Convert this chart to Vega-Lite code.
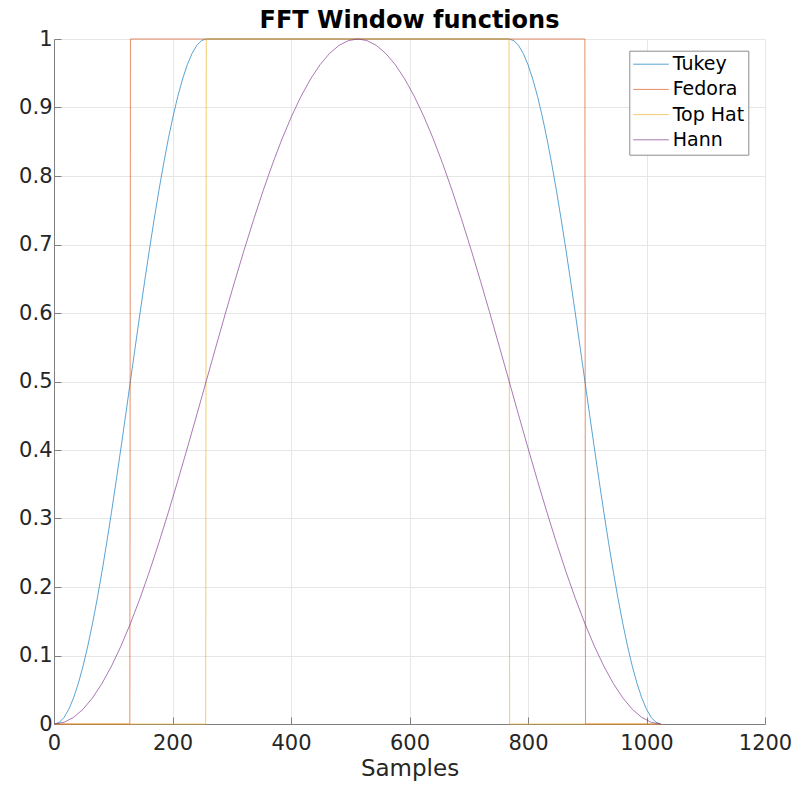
{
  "$schema": "https://vega.github.io/schema/vega-lite/v6.json",
  "autosize": {"type": "none"},
  "width": 711,
  "height": 685,
  "padding": {"left": 54, "top": 39, "right": 33, "bottom": 67},
  "background": "white",
  "title": {"text": "FFT Window functions", "font": "DejaVu Sans", "fontSize": 24, "fontWeight": "bold", "color": "#000000", "anchor": "middle", "baseline": "bottom", "offset": 4, "dy": 33},
  "config": {
    "view": {"stroke": null},
    "font": "DejaVu Sans",
    "axis": {"labelFont": "DejaVu Sans", "titleFont": "DejaVu Sans", "labelFontSize": 21, "titleFontSize": 23, "titleFontWeight": "normal", "labelColor": "#262626", "titleColor": "#262626", "domainColor": "#808080", "tickColor": "#808080", "gridColor": "#e6e6e6", "tickSize": -7, "domainWidth": 1, "tickWidth": 1, "labelFlush": false}
  },
  "data": {"values": [
    {"s":"Tukey","x":1,"y":0},{"s":"Tukey","x":9,"y":0.00241},{"s":"Tukey","x":17,"y":0.00963},{"s":"Tukey","x":25,"y":0.02157},{"s":"Tukey","x":33,"y":0.03813},{"s":"Tukey","x":41,"y":0.05915},{"s":"Tukey","x":49,"y":0.08441},{"s":"Tukey","x":57,"y":0.11368},{"s":"Tukey","x":65,"y":0.14667},{"s":"Tukey","x":73,"y":0.18306},{"s":"Tukey","x":81,"y":0.22251},{"s":"Tukey","x":89,"y":0.26463},{"s":"Tukey","x":97,"y":0.30902},{"s":"Tukey","x":105,"y":0.35526},{"s":"Tukey","x":113,"y":0.40291},{"s":"Tukey","x":121,"y":0.4515},{"s":"Tukey","x":129,"y":0.50077},{"s":"Tukey","x":137,"y":0.54987},{"s":"Tukey","x":145,"y":0.5986},{"s":"Tukey","x":153,"y":0.64616},{"s":"Tukey","x":161,"y":0.69231},{"s":"Tukey","x":169,"y":0.73651},{"s":"Tukey","x":177,"y":0.77863},{"s":"Tukey","x":185,"y":0.81803},{"s":"Tukey","x":193,"y":0.85444},{"s":"Tukey","x":201,"y":0.88727},{"s":"Tukey","x":209,"y":0.91644},{"s":"Tukey","x":217,"y":0.94156},{"s":"Tukey","x":225,"y":0.96246},{"s":"Tukey","x":233,"y":0.97887},{"s":"Tukey","x":241,"y":0.99068},{"s":"Tukey","x":249,"y":0.99773},{"s":"Tukey","x":257,"y":1},
    {"s":"Tukey","x":768,"y":1},{"s":"Tukey","x":776,"y":0.99773},{"s":"Tukey","x":784,"y":0.99068},{"s":"Tukey","x":792,"y":0.97887},{"s":"Tukey","x":800,"y":0.96246},{"s":"Tukey","x":808,"y":0.94156},{"s":"Tukey","x":816,"y":0.91644},{"s":"Tukey","x":824,"y":0.88727},{"s":"Tukey","x":832,"y":0.85444},{"s":"Tukey","x":840,"y":0.81803},{"s":"Tukey","x":848,"y":0.77863},{"s":"Tukey","x":856,"y":0.73651},{"s":"Tukey","x":864,"y":0.69231},{"s":"Tukey","x":872,"y":0.64616},{"s":"Tukey","x":880,"y":0.5986},{"s":"Tukey","x":888,"y":0.54987},{"s":"Tukey","x":896,"y":0.50077},{"s":"Tukey","x":904,"y":0.4515},{"s":"Tukey","x":912,"y":0.40291},{"s":"Tukey","x":920,"y":0.35526},{"s":"Tukey","x":928,"y":0.30902},{"s":"Tukey","x":936,"y":0.26463},{"s":"Tukey","x":944,"y":0.22251},{"s":"Tukey","x":952,"y":0.18306},{"s":"Tukey","x":960,"y":0.14667},{"s":"Tukey","x":968,"y":0.11368},{"s":"Tukey","x":976,"y":0.08441},{"s":"Tukey","x":984,"y":0.05915},{"s":"Tukey","x":992,"y":0.03813},{"s":"Tukey","x":1000,"y":0.02157},{"s":"Tukey","x":1008,"y":0.00963},{"s":"Tukey","x":1016,"y":0.00241},{"s":"Tukey","x":1024,"y":0},
    {"s":"Fedora","x":1,"y":0},{"s":"Fedora","x":128,"y":0},{"s":"Fedora","x":129,"y":1},{"s":"Fedora","x":896,"y":1},{"s":"Fedora","x":897,"y":0},{"s":"Fedora","x":1024,"y":0},
    {"s":"Top Hat","x":1,"y":0},{"s":"Top Hat","x":256,"y":0},{"s":"Top Hat","x":257,"y":1},{"s":"Top Hat","x":768,"y":1},{"s":"Top Hat","x":769,"y":0},{"s":"Top Hat","x":1024,"y":0},
    {"s":"Hann","x":1,"y":0},{"s":"Hann","x":17,"y":0.00241},{"s":"Hann","x":33,"y":0.00963},{"s":"Hann","x":49,"y":0.02157},{"s":"Hann","x":65,"y":0.03813},{"s":"Hann","x":81,"y":0.05915},{"s":"Hann","x":97,"y":0.08441},{"s":"Hann","x":113,"y":0.11368},{"s":"Hann","x":129,"y":0.14667},{"s":"Hann","x":145,"y":0.18306},{"s":"Hann","x":161,"y":0.22251},{"s":"Hann","x":177,"y":0.26463},{"s":"Hann","x":193,"y":0.30902},{"s":"Hann","x":209,"y":0.35526},{"s":"Hann","x":225,"y":0.40291},{"s":"Hann","x":241,"y":0.4515},{"s":"Hann","x":257,"y":0.50077},{"s":"Hann","x":273,"y":0.54987},{"s":"Hann","x":289,"y":0.5986},{"s":"Hann","x":305,"y":0.64616},{"s":"Hann","x":321,"y":0.69231},{"s":"Hann","x":337,"y":0.73651},{"s":"Hann","x":353,"y":0.77863},{"s":"Hann","x":369,"y":0.81803},{"s":"Hann","x":385,"y":0.85444},{"s":"Hann","x":401,"y":0.88727},{"s":"Hann","x":417,"y":0.91644},{"s":"Hann","x":433,"y":0.94156},{"s":"Hann","x":449,"y":0.96246},{"s":"Hann","x":465,"y":0.97887},{"s":"Hann","x":481,"y":0.99068},{"s":"Hann","x":497,"y":0.99773},{"s":"Hann","x":513,"y":1},{"s":"Hann","x":528,"y":0.99773},{"s":"Hann","x":544,"y":0.99068},{"s":"Hann","x":560,"y":0.97887},{"s":"Hann","x":576,"y":0.96246},{"s":"Hann","x":592,"y":0.94156},{"s":"Hann","x":608,"y":0.91644},{"s":"Hann","x":624,"y":0.88727},{"s":"Hann","x":640,"y":0.85444},{"s":"Hann","x":656,"y":0.81803},{"s":"Hann","x":672,"y":0.77863},{"s":"Hann","x":688,"y":0.73651},{"s":"Hann","x":704,"y":0.69231},{"s":"Hann","x":720,"y":0.64616},{"s":"Hann","x":736,"y":0.5986},{"s":"Hann","x":752,"y":0.54987},{"s":"Hann","x":768,"y":0.50077},{"s":"Hann","x":784,"y":0.4515},{"s":"Hann","x":800,"y":0.40291},{"s":"Hann","x":816,"y":0.35526},{"s":"Hann","x":832,"y":0.30902},{"s":"Hann","x":848,"y":0.26463},{"s":"Hann","x":864,"y":0.22251},{"s":"Hann","x":880,"y":0.18306},{"s":"Hann","x":896,"y":0.14667},{"s":"Hann","x":912,"y":0.11368},{"s":"Hann","x":928,"y":0.08441},{"s":"Hann","x":944,"y":0.05915},{"s":"Hann","x":960,"y":0.03813},{"s":"Hann","x":976,"y":0.02157},{"s":"Hann","x":992,"y":0.00963},{"s":"Hann","x":1008,"y":0.00241},{"s":"Hann","x":1024,"y":0}
  ]},
  "mark": {"type": "line", "strokeWidth": 1, "opacity": 0.65, "clip": false},
  "encoding": {
    "x": {"field": "x", "type": "quantitative", "scale": {"domain": [0, 1200], "nice": false, "zero": false}, "axis": {"title": "Samples", "values": [0, 200, 400, 600, 800, 1000, 1200], "format": "d", "grid": true, "labelPadding": 15, "titlePadding": 4}},
    "y": {"field": "y", "type": "quantitative", "scale": {"domain": [0, 1], "nice": false}, "axis": {"title": null, "values": [0, 0.1, 0.2, 0.3, 0.4, 0.5, 0.6, 0.7, 0.8, 0.9, 1], "format": ".1~f", "grid": true, "labelPadding": 9}},
    "color": {"field": "s", "type": "nominal", "sort": ["Tukey", "Fedora", "Top Hat", "Hann"], "scale": {"domain": ["Tukey", "Fedora", "Top Hat", "Hann"], "range": ["#0072BD", "#D95319", "#EDB120", "#7E2F8E"]},
      "legend": {"title": null, "orient": "none", "legendX": 575.3, "legendY": 11.7, "symbolType": "M-1.067,0H2.889", "symbolSize": 324, "symbolStrokeWidth": 1, "labelFont": "DejaVu Sans", "labelFontSize": 19, "labelColor": "#000000", "labelOffset": 20.4, "padding": 4, "rowPadding": 5.2, "strokeColor": "#8c8c8c", "fillColor": "#ffffff", "cornerRadius": 0, "labelLimit": 200}}
  }
}
